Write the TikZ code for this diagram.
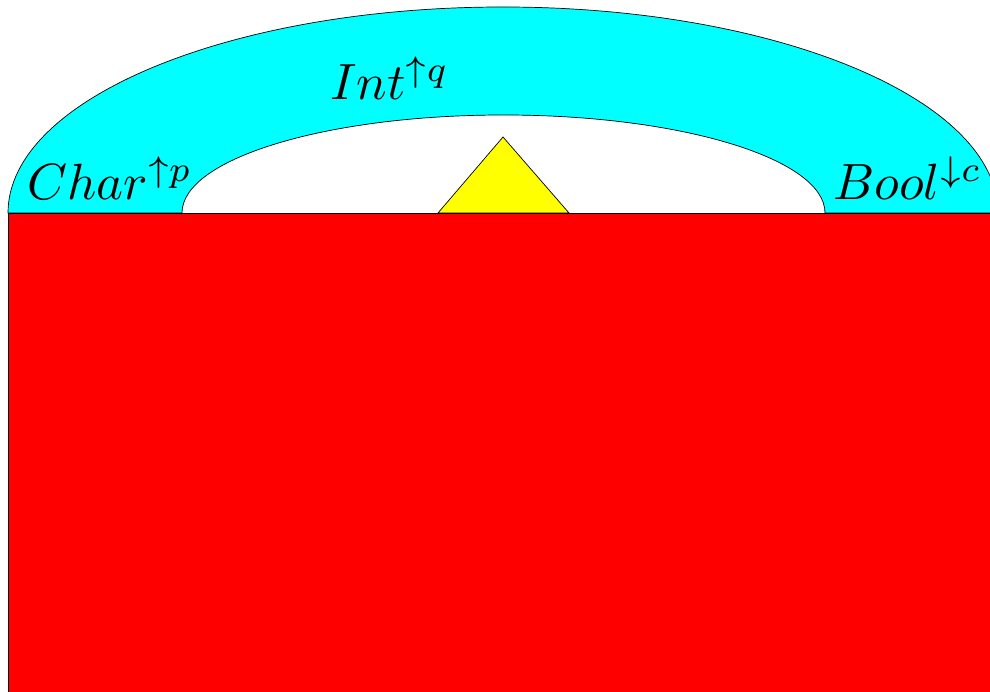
\documentclass[tikz,border=0pt]{standalone}
\usepackage{graphicx}
\usepackage{amsmath}
\usepackage{amssymb}
\usepackage{xcolor}

\definecolor{archcyan}{RGB}{0,255,255}
\definecolor{peakyellow}{RGB}{255,255,0}
\definecolor{groundred}{RGB}{255,0,0}
\newcommand{\biglbl}[1]{\scalebox{2.9}{$#1$}}

\begin{document}
\begin{tikzpicture}[x=0.02cm,y=0.02cm,
    lbl/.style={anchor=base west,inner sep=0pt}]
                \useasboundingbox (0,0) rectangle (990,692);
                \clip (0,0) rectangle (990,692);
                % Arch of types
                \draw[fill=archcyan] (8,479) arc[start angle=180,end angle=0,x radius=495,y radius=206]
                    -- (825,479) arc[start angle=0,end angle=180,x radius=321.5,y radius=98] -- cycle;
                % Ground
                \draw[fill=groundred] (8,479) rectangle (1010,-20);
                % Peak
                \draw[fill=peakyellow] (438,479) -- (503,555) -- (569,479) -- cycle;
                
                \node[lbl] (char) at (27,492) {\biglbl{Char^{\uparrow p}}};
                \node[lbl] (int) at (330,592) {\biglbl{Int^{\uparrow q}}};
                \node[lbl] (bool) at (833,492) {\biglbl{Bool^{\downarrow c}}};
            \end{tikzpicture}
\end{document}
